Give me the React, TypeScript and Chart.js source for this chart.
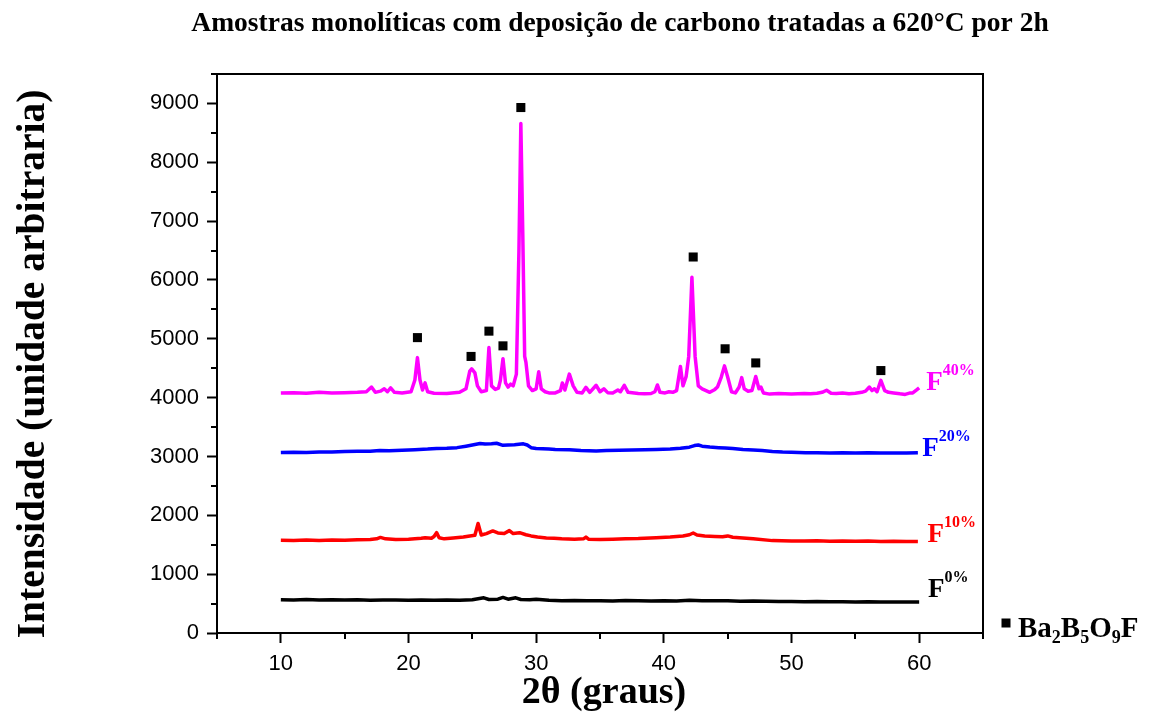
import React, { useEffect, useRef } from "react";
import { Chart, registerables } from "chart.js";

Chart.register(...registerables);

// ---------------- data ----------------
const xTickValues = [10, 20, 30, 40, 50, 60];
const xMinorValues = [5, 15, 25, 35, 45, 55, 65];
const yTickValues = [0, 1000, 2000, 3000, 4000, 5000, 6000, 7000, 8000, 9000];
const yMinorValues = [500, 1500, 2500, 3500, 4500, 5500, 6500, 7500, 8500, 9500];

const f0Pattern: [number, number][] = [
  [10, 565], [11, 560], [12, 568], [13, 562], [14, 566], [15, 560], [16, 565], [17, 558],
  [18, 562], [19, 560], [20, 556], [21, 562], [22, 555], [23, 560], [24, 555], [25, 565],
  [25.9, 598], [26.3, 570], [27, 575], [27.4, 605], [27.8, 575], [28.4, 598], [28.8, 570],
  [29.5, 565], [30, 575], [31, 555], [32, 550], [33, 552], [34, 548], [35, 550], [36, 545],
  [37, 552], [38, 548], [39, 545], [40, 550], [41, 545], [42, 555], [43, 550], [44, 548],
  [45, 546], [46, 540], [47, 542], [48, 538], [49, 535], [50, 535], [51, 532], [52, 534],
  [53, 530], [54, 532], [55, 528], [56, 530], [57, 527], [58, 528], [59, 526], [60, 525],
];

const f10Pattern: [number, number][] = [
  [10, 1576], [11, 1572], [12, 1580], [13, 1574], [14, 1582], [15, 1578], [16, 1585],
  [17, 1590], [17.5, 1600], [17.8, 1625], [18.2, 1600], [19, 1590], [20, 1595], [21.0, 1610],
  [21.3, 1620], [21.8, 1610], [22.0, 1640], [22.2, 1706], [22.4, 1620], [22.8, 1600],
  [23.5, 1615], [24.3, 1630], [24.8, 1650], [25.2, 1660], [25.45, 1860], [25.7, 1665],
  [26.1, 1690], [26.6, 1734], [27.0, 1700], [27.5, 1690], [27.9, 1740], [28.2, 1690],
  [28.7, 1705], [29.2, 1670], [29.6, 1650], [30.1, 1630], [30.8, 1615], [31.4, 1610],
  [32.0, 1600], [33.0, 1595], [33.7, 1600], [33.9, 1630], [34.1, 1595], [35, 1590],
  [36, 1595], [37, 1600], [38, 1605], [39.4, 1620], [40.5, 1630], [41.5, 1650], [42.0, 1670],
  [42.3, 1700], [42.6, 1665], [43.2, 1650], [44, 1640], [44.6, 1635], [45.0, 1650],
  [45.4, 1627], [46.2, 1615], [47, 1600], [48.5, 1570], [50, 1565], [51, 1562], [52, 1568],
  [53, 1560], [54, 1565], [55, 1558], [56, 1562], [57, 1556], [58, 1560], [59, 1555], [59.9, 1553],
];

const f20Pattern: [number, number][] = [
  [10, 3068], [11, 3072], [12, 3066], [13, 3078], [14, 3075], [15, 3085], [16, 3090],
  [17, 3088], [17.75, 3100], [18.5, 3098], [19.5, 3105], [20.5, 3115], [21.5, 3125],
  [22.2, 3136], [23, 3140], [23.8, 3150], [24.5, 3175], [25.0, 3195], [25.6, 3220],
  [26, 3212], [26.5, 3215], [26.9, 3225], [27.4, 3190], [27.8, 3195], [28.3, 3200],
  [29.0, 3215], [29.3, 3195], [29.6, 3150], [30.0, 3136], [30.5, 3130], [31, 3125],
  [31.5, 3120], [32.6, 3115], [33.5, 3100], [34.7, 3095], [35.5, 3100], [36.5, 3105],
  [37.5, 3110], [38.5, 3115], [39.4, 3120], [40.5, 3125], [41.3, 3140], [42.0, 3158],
  [42.4, 3185], [42.7, 3195], [43.0, 3175], [43.6, 3160], [44.3, 3150], [44.8, 3145],
  [45.4, 3136], [46.2, 3120], [47.0, 3110], [47.7, 3100], [48.5, 3085], [49.3, 3075],
  [50, 3070], [51.1, 3062], [52, 3065], [53, 3060], [54, 3063], [55, 3058], [56, 3062],
  [57, 3058], [58, 3061], [59, 3058], [59.9, 3062],
];

const f40Pattern: [number, number][] = [
  [10.0, 4080], [11, 4085], [12, 4075], [13, 4090], [14, 4080], [15, 4085], [16, 4090],
  [16.7, 4100], [17.1, 4180], [17.4, 4090], [17.8, 4110], [18.1, 4150], [18.35, 4100],
  [18.6, 4165], [18.9, 4090], [19.5, 4080], [20.2, 4100], [20.5, 4300], [20.7, 4680],
  [20.9, 4300], [21.1, 4130], [21.3, 4250], [21.5, 4100], [22, 4075], [23, 4070], [24, 4090],
  [24.5, 4150], [24.8, 4450], [24.95, 4490], [25.2, 4420], [25.4, 4200], [25.7, 4100],
  [26.1, 4120], [26.3, 4850], [26.5, 4200], [26.8, 4140], [27.05, 4160], [27.2, 4300],
  [27.4, 4660], [27.6, 4250], [27.8, 4180], [28.0, 4230], [28.2, 4200], [28.45, 4400],
  [28.65, 6500], [28.8, 8660], [28.95, 6800], [29.1, 4700], [29.2, 4600], [29.4, 4200],
  [29.7, 4120], [30.0, 4150], [30.2, 4440], [30.4, 4150], [30.7, 4100], [31.0, 4080],
  [31.5, 4080], [31.9, 4120], [32.05, 4250], [32.25, 4130], [32.6, 4400], [32.9, 4200],
  [33.2, 4090], [33.6, 4080], [33.9, 4175], [34.2, 4090], [34.7, 4210], [35.0, 4100],
  [35.3, 4150], [35.6, 4085], [36.0, 4080], [36.4, 4130], [36.6, 4100], [36.9, 4210],
  [37.2, 4090], [38, 4070], [38.5, 4065], [39, 4070], [39.3, 4100], [39.5, 4215], [39.7, 4090],
  [40.1, 4080], [40.4, 4100], [40.7, 4090], [41.0, 4120], [41.3, 4530], [41.5, 4200],
  [41.75, 4362], [41.95, 4700], [42.2, 6045], [42.45, 4700], [42.7, 4200], [43.0, 4150],
  [43.3, 4120], [43.6, 4090], [44.0, 4140], [44.2, 4180], [44.5, 4350], [44.75, 4540],
  [45.0, 4350], [45.3, 4100], [45.6, 4080], [45.9, 4180], [46.1, 4340], [46.3, 4150],
  [46.6, 4110], [46.9, 4120], [47.2, 4360], [47.45, 4150], [47.6, 4180], [47.8, 4080],
  [48.3, 4060], [49, 4070], [49.5, 4065], [50, 4060], [51, 4070], [51.5, 4065], [52, 4075],
  [52.4, 4090], [52.75, 4125], [53.1, 4075], [53.5, 4070], [54, 4080], [54.5, 4065],
  [55, 4075], [55.5, 4090], [55.8, 4110], [56.1, 4180], [56.3, 4120], [56.5, 4150],
  [56.7, 4100], [57.0, 4293], [57.3, 4120], [57.6, 4090], [58, 4080], [58.5, 4065],
  [58.9, 4055], [59.3, 4080], [59.5, 4080], [59.8, 4130], [60, 4165],
];

// Ba2B5O9F phase markers (2θ, intensity)
const phaseMarks: [number, number][] = [
  [20.7, 5020], [24.9, 4700], [26.3, 5130], [27.4, 4880], [28.8, 8930],
  [42.3, 6390], [44.8, 4830], [47.2, 4590], [57.0, 4460],
];

const seriesNames = ["F0%", "F10%", "F20%", "F40%"];
const seriesColors = ["#000000", "#ff0000", "#0000ff", "#ff00ff"];
const seriesSup = ["0%", "10%", "20%", "40%"];
// label anchor in data units (2θ, intensity at baseline)
const labelAnchorX = [60.7, 60.65, 60.25, 60.55];
const labelAnchorY = [610, 1542, 3000, 4136];

const chartTitle = "Amostras monolíticas com deposição de carbono tratadas a 620°C por 2h";
const xTitle = "2θ (graus)";
const yTitle = "Intensidade (unidade arbitraria)";

const toXY = (arr: [number, number][]) => arr.map(([x, y]) => ({ x, y }));

const SERIF = "'Liberation Serif', 'Times New Roman', serif";
const SANS = "'Liberation Sans', Arial, sans-serif";

const decorPlugin = {
  id: "decor",
  afterDraw(chart: any) {
    const { ctx, chartArea: a } = chart;
    const xs = chart.scales.x;
    const ys = chart.scales.y;
    ctx.save();
    ctx.strokeStyle = "#000";
    ctx.lineWidth = 2;
    ctx.beginPath();
    ctx.moveTo(a.left, a.top);
    ctx.lineTo(a.right, a.top);
    ctx.lineTo(a.right, a.bottom);
    ctx.stroke();

    // minor ticks
    ctx.beginPath();
    for (const v of xMinorValues) {
      const px = Math.round(xs.getPixelForValue(v));
      ctx.moveTo(px, a.bottom);
      ctx.lineTo(px, a.bottom + 6);
    }
    for (const v of yMinorValues) {
      const py = Math.round(ys.getPixelForValue(v));
      ctx.moveTo(a.left, py);
      ctx.lineTo(a.left - 6, py);
    }
    ctx.stroke();

    // title
    ctx.fillStyle = "#000";
    ctx.font = `bold 27.5px ${SERIF}`;
    ctx.textAlign = "center";
    ctx.textBaseline = "alphabetic";
    ctx.fillText(chartTitle, 620, 31);

    // x title
    ctx.font = `bold 38px ${SERIF}`;
    ctx.fillText(xTitle, 604, 703);

    // y title
    ctx.save();
    ctx.translate(44, 364);
    ctx.rotate(-Math.PI / 2);
    ctx.textAlign = "center";
    ctx.font = `bold 39.5px ${SERIF}`;
    ctx.fillText(yTitle, 0, 0);
    ctx.restore();

    // series labels
    ctx.textAlign = "left";
    for (let i = 0; i < seriesNames.length; i++) {
      const px = xs.getPixelForValue(labelAnchorX[i]);
      const py = ys.getPixelForValue(labelAnchorY[i]);
      ctx.fillStyle = seriesColors[i];
      ctx.font = `bold 27px ${SERIF}`;
      ctx.fillText("F", px, py);
      const w = ctx.measureText("F").width;
      ctx.font = `bold 16px ${SERIF}`;
      ctx.fillText(seriesSup[i], px + w, py - 15);
    }

    // legend
    ctx.fillStyle = "#000";
    const lx = 1006;
    const ly = 623;
    ctx.fillRect(lx - 4.5, ly - 4.5, 9, 9);
    let tx = 1018;
    const base = 637;
    const parts: [string, boolean][] = [["Ba", false], ["2", true], ["B", false], ["5", true], ["O", false], ["9", true], ["F", false]];
    for (const [t, sub] of parts) {
      ctx.font = sub ? `bold 18px ${SERIF}` : `bold 29px ${SERIF}`;
      ctx.fillText(t, tx, sub ? base + 6 : base);
      tx += ctx.measureText(t).width;
    }
    ctx.restore();
  },
};

export default function App() {
  const ref = useRef<HTMLCanvasElement | null>(null);
  useEffect(() => {
    if (!ref.current) return;
    const datasets: any[] = [
      {
        type: "scatter",
        label: "Ba2B5O9F",
        data: toXY(phaseMarks),
        pointStyle: "rect",
        pointRadius: 6.4,
        pointBackgroundColor: "#000",
        pointBorderWidth: 0,
        showLine: false,
      },
    ];
    const patterns = [f0Pattern, f10Pattern, f20Pattern, f40Pattern];
    for (let i = 3; i >= 0; i--) {
      datasets.push({
        type: "line",
        label: seriesNames[i],
        data: toXY(patterns[i]),
        borderColor: seriesColors[i],
        borderWidth: 3.5,
        pointRadius: 0,
        tension: 0,
        borderJoinStyle: "round",
        fill: false,
      });
    }
    const chart = new Chart(ref.current, {
      type: "line",
      data: { datasets },
      options: {
        animation: false,
        responsive: false,
        devicePixelRatio: 1,
        layout: { padding: { top: 74, right: 181, left: 0, bottom: 0 } },
        plugins: { legend: { display: false }, tooltip: { enabled: false }, title: { display: false } },
        scales: {
          x: {
            type: "linear",
            min: 5,
            max: 65,
            afterBuildTicks: (s: any) => {
              s.ticks = xTickValues.map((v) => ({ value: v }));
            },
            afterFit: (s: any) => {
              s.height = 87;
            },
            grid: { display: true, drawOnChartArea: false, drawTicks: true, tickLength: 10, tickWidth: 2, tickColor: "#000" },
            border: { display: true, color: "#000", width: 2 },
            ticks: {
              color: "#000",
              font: { family: SANS, size: 22 },
              padding: 8,
              maxRotation: 0,
              autoSkip: false,
              callback: (v: any) => String(v),
            },
          },
          y: {
            type: "linear",
            min: 0,
            max: 9500,
            afterBuildTicks: (s: any) => {
              s.ticks = yTickValues.map((v) => ({ value: v }));
            },
            afterFit: (s: any) => {
              s.width = 217;
            },
            grid: { display: true, drawOnChartArea: false, drawTicks: true, tickLength: 10, tickWidth: 2, tickColor: "#000" },
            border: { display: true, color: "#000", width: 2 },
            ticks: {
              color: "#000",
              font: { family: SANS, size: 22 },
              padding: 8,
              autoSkip: false,
              callback: (v: any) => String(v),
            },
          },
        },
      },
      plugins: [decorPlugin],
    });
    return () => chart.destroy();
  }, []);
  return (
    <div style={{ position: "absolute", left: 0, top: 0, width: 1164, height: 720, background: "#fff" }}>
      <canvas ref={ref} width={1164} height={720} />
    </div>
  );
}
